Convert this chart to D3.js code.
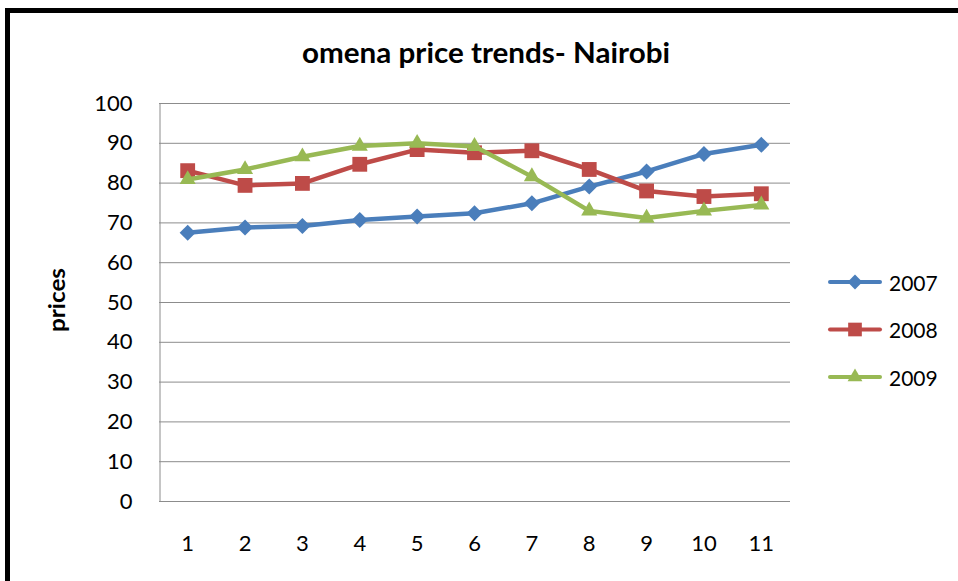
<!DOCTYPE html>
<html>
<head>
<meta charset="utf-8">
<script src="https://d3js.org/d3.v7.min.js"></script>
<style>
  html, body { margin: 0; padding: 0; background: #fff; overflow: hidden; }
  svg { display: block; }
  text { font-family: Lato, "Open Sans", sans-serif; fill: #000; }
</style>
</head>
<body>
<svg id="chart" width="958" height="581"></svg>
<script>
// --- data ---
const months = [1, 2, 3, 4, 5, 6, 7, 8, 9, 10, 11];
const prices2007 = [67.4, 68.7, 69.1, 70.6, 71.5, 72.3, 74.8, 79.0, 82.8, 87.2, 89.5];
const prices2008 = [83.0, 79.3, 79.8, 84.6, 88.3, 87.5, 88.0, 83.3, 77.9, 76.5, 77.2];
const prices2009 = [80.8, 83.3, 86.5, 89.2, 89.9, 89.1, 81.5, 72.9, 71.1, 72.9, 74.4];
const yTicks = [0, 10, 20, 30, 40, 50, 60, 70, 80, 90, 100];

const series = [
  { name: "2007", values: prices2007, color: "#4a7ebb", symbol: d3.symbolDiamond2, size: 165 },
  { name: "2008", values: prices2008, color: "#be4b48", symbol: d3.symbolSquare2, size: 280 },
  { name: "2009", values: prices2009, color: "#98b954", symbol: d3.symbolTriangle2, size: 185 }
];

const svg = d3.select("#chart");

// outer frame (only top and left edges are visible in the shot)
svg.append("rect")
  .attr("x", 7.5).attr("y", 10.5)
  .attr("width", 1000).attr("height", 1000)
  .attr("fill", "none")
  .attr("stroke", "#000")
  .attr("stroke-width", 5);

const plot = { left: 159, right: 790, top: 103, bottom: 501 };

const x = d3.scaleBand()
  .domain(months)
  .range([plot.left, plot.right]);

const y = d3.scaleLinear()
  .domain([0, 100])
  .range([plot.bottom, plot.top]);

// gridlines
svg.append("g")
  .selectAll("line")
  .data(yTicks)
  .enter().append("line")
  .attr("x1", plot.left).attr("x2", plot.right)
  .attr("y1", d => y(d) + 0.5).attr("y2", d => y(d) + 0.5)
  .attr("stroke", "#8c8c8c")
  .attr("stroke-width", 1);

// y axis
const yAxis = svg.append("g")
  .attr("transform", `translate(${plot.left + 0.5},0)`)
  .call(d3.axisLeft(y).tickValues(yTicks).tickSize(0).tickPadding(27));
yAxis.select(".domain").attr("stroke", "#8c8c8c");
yAxis.selectAll("text")
  .style("font-family", "Lato, sans-serif")
  .style("font-size", "22px")
  .attr("fill", "#000");

// x axis (labels only, baseline line already drawn as grid)
const xAxis = svg.append("g")
  .attr("transform", `translate(0,${plot.bottom})`)
  .call(d3.axisBottom(x).tickSize(0).tickPadding(34));
xAxis.select(".domain").remove();
xAxis.selectAll("text")
  .style("font-family", "Lato, sans-serif")
  .style("font-size", "22px")
  .attr("fill", "#000");

// title
svg.append("text")
  .attr("x", 486).attr("y", 63)
  .attr("text-anchor", "middle")
  .attr("textLength", 368)
  .attr("lengthAdjust", "spacingAndGlyphs")
  .style("font-size", "28px")
  .style("font-weight", "bold")
  .text("omena price trends- Nairobi");

// y label
svg.append("text")
  .attr("transform", "translate(65,300) rotate(-90)")
  .attr("text-anchor", "middle")
  .attr("textLength", 64)
  .attr("lengthAdjust", "spacingAndGlyphs")
  .style("font-size", "23px")
  .style("font-weight", "bold")
  .text("prices");

// lines and markers
const cx = d => x(d) + x.bandwidth() / 2;
const line = d3.line()
  .x((v, i) => cx(months[i]))
  .y(v => y(v));

series.forEach(s => {
  svg.append("path")
    .datum(s.values)
    .attr("d", line)
    .attr("fill", "none")
    .attr("stroke", s.color)
    .attr("stroke-width", 4.5)
    .attr("stroke-linejoin", "round");

  svg.append("g")
    .selectAll("path")
    .data(s.values)
    .enter().append("path")
    .attr("d", d3.symbol().type(s.symbol).size(s.size))
    .attr("transform", (v, i) => `translate(${cx(months[i])},${y(v)})`)
    .attr("fill", s.color);
});

// legend
const legend = svg.append("g");
series.forEach((s, i) => {
  const ly = 282 + i * 47.5;
  const g = legend.append("g").attr("transform", `translate(0,${ly})`);
  g.append("line")
    .attr("x1", 830).attr("x2", 880)
    .attr("stroke", s.color)
    .attr("stroke-width", 4)
    .attr("stroke-linecap", "round");
  g.append("path")
    .attr("d", d3.symbol().type(s.symbol).size(s.size * 0.85))
    .attr("transform", "translate(855,0)")
    .attr("fill", s.color);
  g.append("text")
    .attr("x", 889).attr("y", 8.5)
    .style("font-size", "21px")
    .text(s.name);
});
</script>
</body>
</html>
